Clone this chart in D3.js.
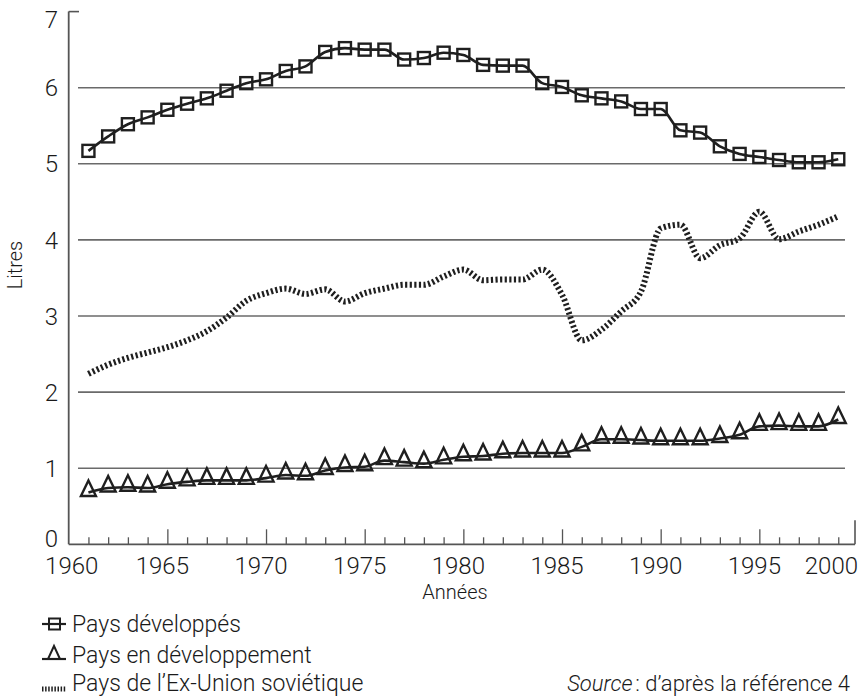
<!DOCTYPE html>
<html>
<head>
<meta charset="utf-8">
<script src="https://cdn.jsdelivr.net/npm/d3@7"></script>
<style>
  body { margin: 0; background: #fff; overflow: hidden; }
  svg { display: block; }
  svg text { font-family: Roboto, "Liberation Sans", sans-serif; font-weight: 300; fill: #1a1a1a; }
</style>
</head>
<body>
<svg id="chart" width="862" height="697"></svg>
<script>
// years 1961 to 1999, one value per year
const years = d3.range(1961, 2000);

const developed = [5.17, 5.36, 5.52, 5.61, 5.71, 5.79, 5.86, 5.96, 6.06, 6.11,
  6.22, 6.28, 6.47, 6.52, 6.50, 6.50, 6.37, 6.39, 6.46, 6.43,
  6.30, 6.29, 6.29, 6.06, 6.01, 5.90, 5.86, 5.82, 5.72, 5.72,
  5.44, 5.41, 5.23, 5.13, 5.09, 5.05, 5.02, 5.02, 5.06];

const developing = [0.68, 0.74, 0.75, 0.74, 0.79, 0.82, 0.84, 0.84, 0.84, 0.87,
  0.91, 0.90, 0.97, 1.01, 1.02, 1.10, 1.08, 1.06, 1.11, 1.15,
  1.16, 1.19, 1.20, 1.20, 1.20, 1.28, 1.38, 1.38, 1.37, 1.36,
  1.36, 1.36, 1.39, 1.44, 1.55, 1.56, 1.55, 1.55, 1.64];

const exUssr = [2.24, 2.36, 2.45, 2.52, 2.59, 2.68, 2.80, 2.98, 3.20, 3.30,
  3.36, 3.29, 3.35, 3.19, 3.30, 3.36, 3.41, 3.41, 3.52, 3.61,
  3.47, 3.48, 3.48, 3.61, 3.28, 2.68, 2.82, 3.06, 3.32, 4.15,
  4.20, 3.76, 3.93, 4.02, 4.37, 4.01, 4.11, 4.20, 4.31];

const xTickLabels = [1960, 1965, 1970, 1975, 1980, 1985, 1990, 1995, 2000];
const yTicks = [0, 1, 2, 3, 4, 5, 6, 7];
const gridValues = [1, 2, 3, 4, 5, 6];

const legendLabels = ["Pays développés", "Pays en développement", "Pays de l\u2019Ex-Union soviétique"];

const ink = "#1f1f1f";
const svg = d3.select("#chart");

const x = d3.scaleLinear().domain([1960, 2000]).range([68.7, 858]);
const y = d3.scaleLinear().domain([0, 7]).range([544.3, 11.6]);

// gridlines
svg.append("g")
  .selectAll("line")
  .data(gridValues)
  .join("line")
  .attr("x1", 78)
  .attr("x2", 845)
  .attr("y1", (d) => y(d))
  .attr("y2", (d) => y(d))
  .attr("stroke", "#6a6a6a")
  .attr("stroke-width", 1.6);

// y axis line + top tick
svg.append("line")
  .attr("x1", x(1960)).attr("x2", x(1960))
  .attr("y1", y(7)).attr("y2", y(0))
  .attr("stroke", "#555").attr("stroke-width", 1.8);
svg.append("line")
  .attr("x1", x(1960)).attr("x2", 79)
  .attr("y1", y(7)).attr("y2", y(7))
  .attr("stroke", "#555").attr("stroke-width", 1.6);

// y labels
svg.append("g")
  .selectAll("text")
  .data(yTicks)
  .join("text")
  .attr("x", 58)
  .attr("y", (d) => y(d) + (d === 7 ? 8 : d === 0 ? -6 : 0))
  .attr("dy", "0.36em")
  .attr("text-anchor", "end")
  .attr("font-size", 24)
  .text((d) => d);

// x axis: tick every year, taller every 5 years
const xAxis = d3.axisBottom(x)
  .tickValues(d3.range(1961, 2000))
  .tickSizeInner(-7)
  .tickSizeOuter(0)
  .tickFormat("");

const gx = svg.append("g")
  .attr("transform", `translate(0,${y(0)})`)
  .call(xAxis);
gx.select(".domain").attr("stroke", "#555").attr("stroke-width", 1.8)
  .attr("d", `M${x(1960)},0H${x(2000) - 3}`);
gx.selectAll(".tick line")
  .attr("stroke", "#555")
  .attr("stroke-width", 1.3)
  .attr("y2", (d) => (d % 5 === 0 ? -15 : -7));

svg.append("line")
  .attr("x1", x(2000) - 3).attr("x2", x(2000) - 3)
  .attr("y1", y(0)).attr("y2", y(0) - 24)
  .attr("stroke", "#555").attr("stroke-width", 1.6);

svg.append("g")
  .selectAll("text")
  .data(xTickLabels)
  .join("text")
  .attr("x", (d) => (d === 1960 ? x(d) + 3 : d === 2000 ? x(d) : x(d) - 5))
  .attr("y", 574)
  .attr("text-anchor", (d) => (d === 2000 ? "end" : "middle"))
  .attr("font-size", 24)
  .text((d) => d);

// axis titles
svg.append("text")
  .attr("x", 455).attr("y", 599)
  .attr("text-anchor", "middle")
  .attr("font-size", 20)
  .text("Années");

svg.append("text")
  .attr("transform", "translate(22,265) rotate(-90)")
  .attr("text-anchor", "middle")
  .attr("font-size", 20)
  .text("Litres");

// lines
const line = (vals) => d3.line()
  .x((d, i) => x(years[i]))
  .y((d) => y(d))
  .curve(d3.curveMonotoneX)(vals);

svg.append("path")
  .attr("d", line(exUssr))
  .attr("fill", "none")
  .attr("stroke", ink)
  .attr("stroke-width", 6)
  .attr("stroke-dasharray", "2.2,2.4");

svg.append("path")
  .attr("d", line(developed))
  .attr("fill", "none")
  .attr("stroke", ink)
  .attr("stroke-width", 2.6);

svg.append("path")
  .attr("d", line(developing))
  .attr("fill", "none")
  .attr("stroke", ink)
  .attr("stroke-width", 2.6);

const sq = 12;
const triPath = "M0,-12L-7.5,3.5L7.5,3.5Z";

svg.append("g")
  .selectAll("rect")
  .data(developed)
  .join("rect")
  .attr("x", (d, i) => x(years[i]) - sq / 2)
  .attr("y", (d) => y(d) - sq / 2)
  .attr("width", sq)
  .attr("height", sq)
  .attr("fill", "none")
  .attr("stroke", ink)
  .attr("stroke-width", 2.4);

svg.append("g")
  .selectAll("path")
  .data(developing)
  .join("path")
  .attr("d", triPath)
  .attr("transform", (d, i) => `translate(${x(years[i])},${y(d)})`)
  .attr("fill", "none")
  .attr("stroke", ink)
  .attr("stroke-width", 2.4)
  .attr("stroke-linejoin", "miter");

// legend (baselines)
const legendBase = [632, 663, 691];
const mid = (i) => legendBase[i] - 8;
const lg = svg.append("g");

lg.append("line").attr("x1", 42).attr("x2", 66).attr("y1", mid(0)).attr("y2", mid(0))
  .attr("stroke", ink).attr("stroke-width", 2.2);
lg.append("rect").attr("x", 49).attr("y", mid(0) - 5.5).attr("width", 11).attr("height", 11)
  .attr("fill", "none").attr("stroke", ink).attr("stroke-width", 2);

lg.append("line").attr("x1", 42).attr("x2", 66).attr("y1", mid(1) + 4).attr("y2", mid(1) + 4)
  .attr("stroke", ink).attr("stroke-width", 2.2);
lg.append("path").attr("d", "M0,-10L-6,3L6,3Z")
  .attr("transform", `translate(54,${mid(1) + 1})`)
  .attr("fill", "none").attr("stroke", ink).attr("stroke-width", 2);

lg.append("line").attr("x1", 42).attr("x2", 66).attr("y1", legendBase[2] - 2).attr("y2", legendBase[2] - 2)
  .attr("stroke", ink).attr("stroke-width", 5).attr("stroke-dasharray", "1.5,1.6");

lg.selectAll("text.lab")
  .data(legendLabels)
  .join("text")
  .attr("class", "lab")
  .attr("x", 72)
  .attr("y", (d, i) => legendBase[i])
  .attr("font-size", 23)
  .text((d) => d);

const src = svg.append("text")
  .attr("x", 850).attr("y", legendBase[2])
  .attr("text-anchor", "end")
  .attr("font-size", 22);
src.append("tspan").attr("font-style", "italic").text("Source");
src.append("tspan").text("\u202F: d\u2019après la référence 4");
</script>
</body>
</html>
